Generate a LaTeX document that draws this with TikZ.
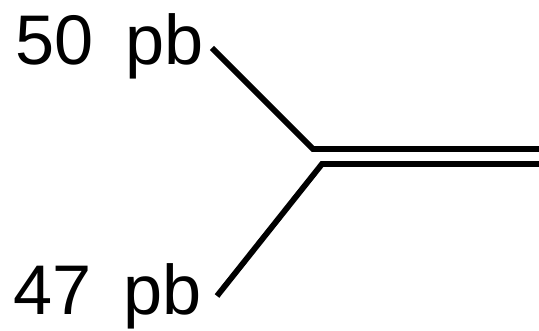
\documentclass[tikz,border=0pt]{standalone}
\usepackage{fontspec}
\setmainfont{Liberation Sans}
\usetikzlibrary{positioning}

\tikzset{
  pblabel/.style={anchor=base west, inner sep=0pt, font=\fontsize{40}{48}\selectfont},
  branch/.style={line width=3.3pt, line join=miter},
}

\begin{document}
\begin{tikzpicture}[x=0.02cm, y=-0.02cm]
  \useasboundingbox (0,0) rectangle (539,331);

  \node[pblabel] (up)  at (15,65)  {50\hspace{0.45em}pb};
  \node[pblabel] (low) at (13,315) {47\hspace{0.45em}pb};

  \coordinate (upend)  at (212,48);
  \coordinate (lowend) at (217,296);
  \coordinate (j1) at (313,149);
  \coordinate (j2) at (322,164);
  \coordinate (o1) at (540,149);
  \coordinate (o2) at (540,164);

  \draw[branch] (upend) -- (j1) -- (o1);
  \draw[branch] (lowend) -- (j2) -- (o2);
\end{tikzpicture}
\end{document}
